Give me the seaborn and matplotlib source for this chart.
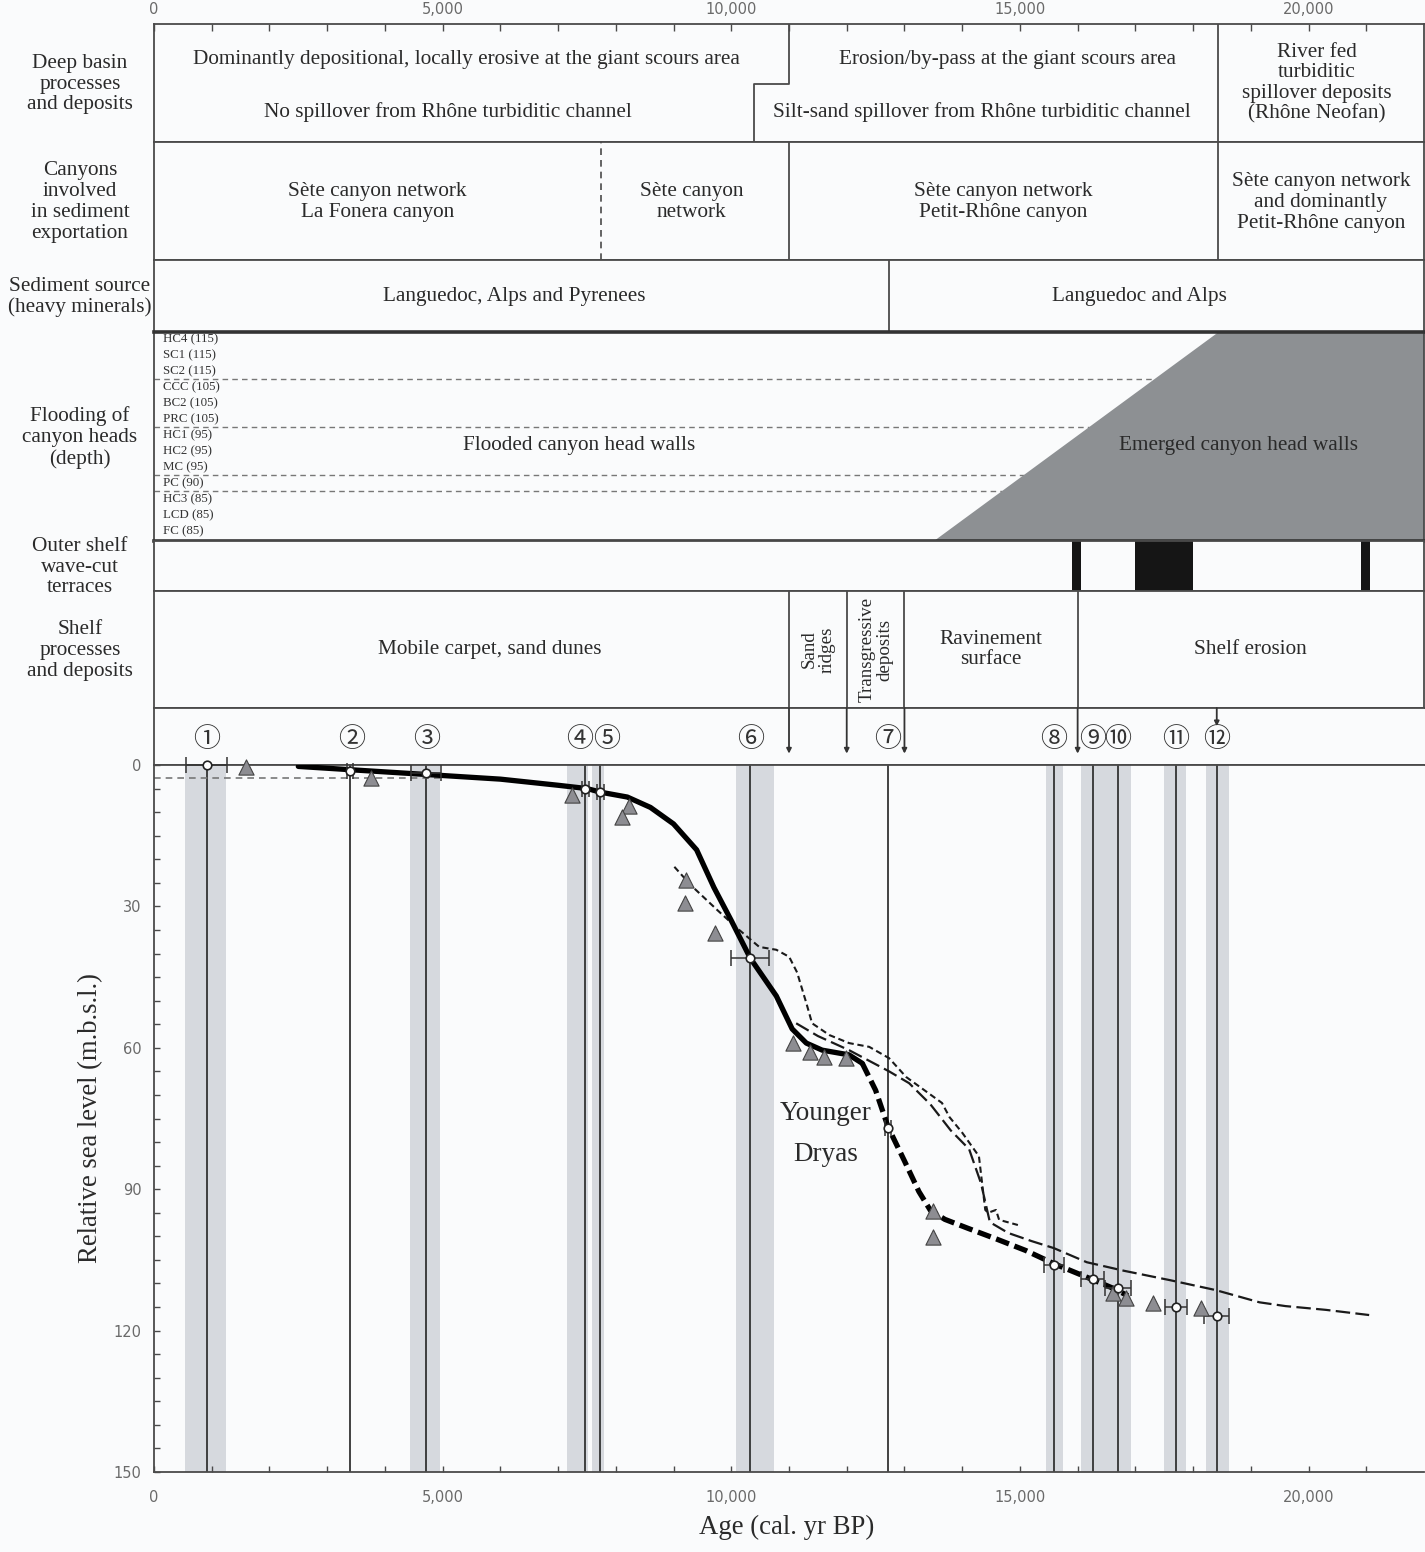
import matplotlib
matplotlib.use("Agg")
import numpy as np
import pandas as pd
import matplotlib.pyplot as plt
from matplotlib.patches import Polygon
from matplotlib.ticker import FuncFormatter
import seaborn as sns

# ---------------- data ----------------
sample_labels = ["①", "②", "③", "④", "⑤", "⑥", "⑦", "⑧", "⑨", "⑩", "⑪", "⑫"]
sample_age = [917, 3391, 4706, 7474, 7734, 10329, 12716, 15588, 16263, 16696, 17699, 18408]
sample_depth = [0.0, 1.2, 1.8, 5.0, 5.8, 41.0, 77.0, 106.0, 109.0, 111.0, 115.0, 117.0]
sample_age_err = [355, 50, 260, 60, 60, 330, 50, 170, 200, 230, 190, 215]
label_age = [917, 3420, 4730, 7370, 7850, 10330, 12716, 15590, 16263, 16700, 17700, 18410]

band_start = [536, 4430, 7150, 7590, 10087, 15450, 16050, 17490, 18220]
band_end = [1246, 4948, 7510, 7800, 10744, 15740, 16930, 17870, 18620]

tri_age = [1592, 3754, 7240, 8236, 8115, 9222, 9204, 9723, 11073, 11367,
           11609, 11990, 13490, 13500, 16610, 16840, 17310, 18140]
tri_depth = [0.4, 2.8, 6.3, 8.7, 11.0, 24.4, 29.3, 35.6, 59.0, 60.9,
             62.0, 62.2, 94.6, 100.2, 112.0, 113.0, 114.2, 115.3]

# this study: solid then bold dashed part
solid_age = [2500, 3400, 4700, 6000, 7000, 7500, 7750, 8200, 8600, 9000, 9400, 9700,
             10000, 10330, 10780, 11055, 11300, 11575, 12040, 12270]
solid_depth = [0.3, 1.0, 2.0, 3.0, 4.3, 5.0, 5.8, 6.8, 9.0, 12.5, 18.0, 26.0,
               33.0, 41.0, 49.0, 56.0, 59.0, 60.5, 61.5, 63.3]
bold_dash_age = [12270, 12500, 12716, 13000, 13250, 13450, 13700, 14100, 14600, 15100,
                 15588, 16263, 16610, 16870]
bold_dash_depth = [63.3, 69.0, 76.8, 84.0, 90.5, 94.5, 96.4, 98.3, 100.6, 103.0,
                   105.8, 109.2, 111.0, 112.6]

# other curve 1 (short dashes)
short_age = [9014, 9300, 9760, 10100, 10485, 10780, 11003, 11140, 11300, 11400, 11700,
             12040, 12390, 12734, 13030, 13650, 13780, 14000, 14290, 14400, 14450,
             14585, 14640, 14965]
short_depth = [21.6, 25.5, 30.8, 34.6, 38.6, 39.2, 40.7, 44.0, 50.5, 54.8, 57.3,
               59.0, 59.8, 62.2, 66.2, 71.7, 74.7, 78.0, 83.0, 94.4, 95.0,
               94.4, 96.5, 97.6]

# other curve 2 (long dashes)
long_age = [11124, 11500, 12040, 12734, 13080, 13450, 13800, 14120, 14325, 14480,
            14800, 15200, 15588, 16160, 16800, 17600, 18390, 18800, 19150, 19600,
            20300, 21050]
long_depth = [54.8, 57.5, 60.5, 65.0, 67.5, 72.0, 77.5, 81.5, 88.7, 97.0,
              99.3, 101.0, 102.5, 105.5, 107.3, 109.3, 111.4, 112.8, 114.0, 114.8,
              115.6, 116.7]

ref_level = 2.8
ref_level_end = 4950

# panel content
basin_upper_split = 11000
basin_lower_split = 10400
basin_right = 18430
canyon_split = 7750
canyon_right = 18430
source_split = 12730
emerge_bottom = 13512
emerge_top = 18443
terrace_start = [15900, 16990, 20917]
terrace_end = [16056, 17993, 21073]
shelf_splits = [11000, 12000, 13000, 16000]
shelf_texts = ["Mobile carpet, sand dunes", "Sand\nridges", "Transgressive\ndeposits",
               "Ravinement\nsurface", "Shelf erosion"]
arrow_ages = [11000, 12000, 13000, 16000]
short_arrow_age = 18410

canyon_labels = ["HC4 (115)", "SC1 (115)", "SC2 (115)", "CCC (105)", "BC2 (105)",
                 "PRC (105)", "HC1 (95)", "HC2 (95)", "MC (95)", "PC (90)",
                 "HC3 (85)", "LCD (85)", "FC (85)"]
canyon_depths = [115, 115, 115, 105, 105, 105, 95, 95, 95, 90, 85, 85, 85]

row_titles = ["Deep basin\nprocesses\nand deposits",
              "Canyons\ninvolved\nin sediment\nexportation",
              "Sediment source\n(heavy minerals)",
              "Flooding of\ncanyon heads\n(depth)",
              "Outer shelf\nwave-cut\nterraces",
              "Shelf\nprocesses\nand deposits"]

XMAX = 22000

# ---------------- style ----------------
BG = "#fafbfc"
EDGE = "#4a4a4a"
TXT = "#2a2a2a"
sns.set_theme(style="white", rc={"axes.facecolor": BG, "figure.facecolor": BG})
plt.rcParams["font.family"] = ["Liberation Serif", "Noto Sans CJK JP", "DejaVu Sans"]

W, H = 1425, 1552
X0, X1 = 154, 1424
fig = plt.figure(figsize=(W / 100, H / 100), dpi=100)

rows_px = [(24, 142), (142, 260), (260, 332), (332, 541), (541, 591), (591, 708)]
LS = 1.14


def add_axes(ytop, ybot):
    ax = fig.add_axes([X0 / W, 1 - ybot / H, (X1 - X0) / W, (ybot - ytop) / H])
    ax.set_xlim(0, XMAX)
    ax.set_facecolor(BG)
    for s in ax.spines.values():
        s.set_color(EDGE)
        s.set_linewidth(1.3)
    return ax


panels = []
for (yt, yb) in rows_px:
    ax = add_axes(yt, yb)
    ax.set_ylim(0, 1)
    ax.set_xticks([])
    ax.set_yticks([])
    panels.append(ax)

fs = 15.3
lc = EDGE

# row titles
for (yt, yb), title in zip(rows_px, row_titles):
    fig.text(80 / W, 1 - ((yt + yb) / 2 + 1) / H, title, ha="center", va="center",
             fontsize=fs, color=TXT, linespacing=LS)

# --- row 1: deep basin
ax = panels[0]
ax.plot([basin_upper_split, basin_upper_split, basin_lower_split, basin_lower_split],
        [1, 0.49, 0.49, 0], color=lc, lw=1.3)
ax.axvline(basin_right, color=lc, lw=1.3)
ax.text(basin_upper_split / 2 - 80, 0.70, "Dominantly depositional, locally erosive at the giant scours area",
        ha="center", va="center", fontsize=fs, color=TXT)
ax.text(basin_lower_split / 2 - 100, 0.25, "No spillover from Rhône turbiditic channel",
        ha="center", va="center", fontsize=fs, color=TXT)
ax.text((basin_upper_split + basin_right) / 2 + 70, 0.70, "Erosion/by-pass at the giant scours area",
        ha="center", va="center", fontsize=fs, color=TXT)
ax.text((basin_lower_split + basin_right) / 2 - 80, 0.25, "Silt-sand spillover from Rhône turbiditic channel",
        ha="center", va="center", fontsize=fs, color=TXT)
ax.text((basin_right + XMAX) / 2 - 70, 0.50, "River fed\nturbiditic\nspillover deposits\n(Rhône Neofan)",
        ha="center", va="center", fontsize=fs, color=TXT, linespacing=LS * 0.97)
# top ticks
ax.xaxis.set_ticks_position("top")
ax.set_xticks(np.arange(0, 20001, 5000))
ax.set_xticks(np.arange(0, XMAX, 1000), minor=True)
ax.tick_params(axis="x", which="both", direction="in", top=True, bottom=False,
               labeltop=True, labelbottom=False, length=5, width=1, color=EDGE,
               labelsize=10.5, labelcolor="#6a6a6a", pad=5)
ax.xaxis.set_major_formatter(FuncFormatter(lambda v, p: f"{int(v):,}"))
for lbl in ax.get_xticklabels():
    lbl.set_fontfamily("DejaVu Sans")

# --- row 2: canyons
ax = panels[1]
ax.axvline(canyon_split, color=lc, lw=1.2, linestyle=(0, (4, 3)))
ax.axvline(basin_upper_split, color=lc, lw=1.3)
ax.axvline(canyon_right, color=lc, lw=1.3)
ax.text(canyon_split / 2, 0.49, "Sète canyon network\nLa Fonera canyon", ha="center", va="center",
        fontsize=fs, color=TXT, linespacing=LS)
ax.text((canyon_split + basin_upper_split) / 2 - 60, 0.49, "Sète canyon\nnetwork", ha="center", va="center",
        fontsize=fs, color=TXT, linespacing=LS)
ax.text((basin_upper_split + canyon_right) / 2, 0.49, "Sète canyon network\nPetit-Rhône canyon",
        ha="center", va="center", fontsize=fs, color=TXT, linespacing=LS)
ax.text((canyon_right + XMAX) / 2, 0.49, "Sète canyon network\nand dominantly\nPetit-Rhône canyon",
        ha="center", va="center", fontsize=fs, color=TXT, linespacing=LS)

# --- row 3: sediment source
ax = panels[2]
ax.axvline(source_split, color=lc, lw=1.3)
ax.text(6245, 0.5, "Languedoc, Alps and Pyrenees", ha="center", va="center", fontsize=fs, color=TXT)
ax.text(17075, 0.5, "Languedoc and Alps", ha="center", va="center", fontsize=fs, color=TXT)

# --- row 4: flooding
ax = panels[3]
ax.add_patch(Polygon([[emerge_bottom, 0], [emerge_top, 1], [XMAX, 1], [XMAX, 0]],
                     closed=True, facecolor="#8d9093", edgecolor="none", zorder=1))
n = len(canyon_labels)
ys = [(541 - (339 + 16 * i)) / 209 for i in range(n)]
for lab, y in zip(canyon_labels, ys):
    ax.text(0.007 * XMAX, y, lab, ha="left", va="center", fontsize=9.3, color="#333")
for i in range(n - 1):
    if canyon_depths[i] != canyon_depths[i + 1]:
        yy = (ys[i] + ys[i + 1]) / 2
        xend = emerge_bottom + yy * (emerge_top - emerge_bottom)
        ax.plot([0, xend], [yy, yy], color="#777", lw=1.0, linestyle=(0, (4, 3)), zorder=0.5)
ax.text(7370, 0.455, "Flooded canyon head walls", ha="center", va="center", fontsize=fs, color=TXT, zorder=3)
ax.text(18790, 0.455, "Emerged canyon head walls", ha="center", va="center", fontsize=fs, color=TXT, zorder=3)
for side in ["top", "bottom"]:
    ax.spines[side].set_linewidth(2.6)
    ax.spines[side].set_color("#333")
    ax.spines[side].set_zorder(5)

# --- row 5: terraces
ax = panels[4]
for s0, s1 in zip(terrace_start, terrace_end):
    ax.axvspan(s0, s1, color="#151515", lw=0)

# --- row 6: shelf
ax = panels[5]
for s in shelf_splits:
    ax.axvline(s, color=lc, lw=1.3)
bounds = [0] + shelf_splits + [XMAX]
for i, t in enumerate(shelf_texts):
    cx = (bounds[i] + bounds[i + 1]) / 2
    if i == 0:
        cx = 5810
    if i in (1, 2):
        ax.text(cx, 0.5, t, ha="center", va="center", fontsize=13.7, color=TXT,
                rotation=90, linespacing=1.05)
    else:
        ax.text(cx, 0.5, t, ha="center", va="center", fontsize=fs, color=TXT, linespacing=LS)

# --- number strip
strip = add_axes(708, 765)
strip.set_ylim(0, 1)
strip.set_xticks([])
strip.set_yticks([])
strip.spines["right"].set_visible(False)
for a, lab in zip(label_age, sample_labels):
    strip.text(a, 0.44, lab, ha="center", va="center", fontsize=19.5, color="#333",
               family=["Noto Sans CJK JP", "DejaVu Sans"])
for a in arrow_ages:
    strip.annotate("", xy=(a, 0.20), xytext=(a, 1.0),
                   arrowprops=dict(arrowstyle="-|>", lw=1.3, color="#333",
                                   mutation_scale=7, shrinkA=0, shrinkB=0))
strip.annotate("", xy=(short_arrow_age, 0.68), xytext=(short_arrow_age, 1.0),
               arrowprops=dict(arrowstyle="-|>", lw=1.3, color="#333",
                               mutation_scale=7, shrinkA=0, shrinkB=0))

# --- main chart
ax = add_axes(765, 1472)
ax.set_ylim(150, 0)
ax.spines["right"].set_visible(False)

for b0, b1 in zip(band_start, band_end):
    ax.axvspan(b0, b1, color="#d6d9de", lw=0, zorder=0)
ax.vlines(sample_age, 0, 150, color="#333", lw=1.3, zorder=1)
ax.hlines(ref_level, 0, ref_level_end, color="#777", lw=1.2, linestyles=[(0, (4, 3))], zorder=2)

sns.lineplot(x=long_age, y=long_depth, sort=False, estimator=None, color="#1a1a1a",
             lw=1.6, linestyle=(0, (6.5, 2.4)), ax=ax, zorder=3)
sns.lineplot(x=short_age, y=short_depth, sort=False, estimator=None, color="#1a1a1a",
             lw=1.5, linestyle=(0, (3.0, 1.8)), ax=ax, zorder=3)
sns.lineplot(x=solid_age, y=solid_depth, sort=False, estimator=None, color="black",
             lw=3.8, ax=ax, zorder=4)
sns.lineplot(x=bold_dash_age, y=bold_dash_depth, sort=False, estimator=None, color="black",
             lw=3.8, linestyle=(0, (2.6, 1.1)), ax=ax, zorder=4)

ax.errorbar(sample_age, sample_depth, xerr=sample_age_err, fmt="none", ecolor="#333",
            elinewidth=1.1, capsize=6, capthick=1.1, zorder=5, clip_on=False)
sns.scatterplot(x=tri_age, y=tri_depth, marker="^", s=120, color="#8d8d92",
                edgecolor="#444", linewidth=0.8, ax=ax, zorder=6, clip_on=False)
sns.scatterplot(x=sample_age, y=sample_depth, marker="o", s=38, color="white",
                edgecolor="#222", linewidth=1.2, ax=ax, zorder=7, clip_on=False)

ax.text(11636, 74, "Younger", ha="center", va="center", fontsize=19.5, color=TXT)
ax.text(11636, 82.7, "Dryas", ha="center", va="center", fontsize=19.5, color=TXT)

ax.set_xticks(np.arange(0, 20001, 5000))
ax.set_xticks(np.arange(0, XMAX, 1000), minor=True)
ax.set_yticks(np.arange(0, 151, 30))
ax.set_yticks(np.arange(0, 151, 5), minor=True)
ax.tick_params(axis="both", which="both", direction="in", length=4.5, width=1, color=EDGE,
               labelsize=10.5, labelcolor="#6a6a6a", bottom=True, left=True, top=False, right=False)
ax.tick_params(axis="x", pad=13)
ax.tick_params(axis="y", pad=9)
ax.xaxis.set_major_formatter(FuncFormatter(lambda v, p: f"{int(v):,}"))
for lbl in ax.get_xticklabels() + ax.get_yticklabels():
    lbl.set_fontfamily("DejaVu Sans")
ax.set_xlabel("Age (cal. yr BP)", fontsize=19.3, color=TXT)
ax.set_ylabel("Relative sea level (m.b.s.l.)", fontsize=19.2, color=TXT)
ax.xaxis.set_label_coords(0.498, -0.061)
ax.yaxis.set_label_coords(-0.040, 0.5)

fig.savefig("out.png", dpi=100, facecolor=BG)
